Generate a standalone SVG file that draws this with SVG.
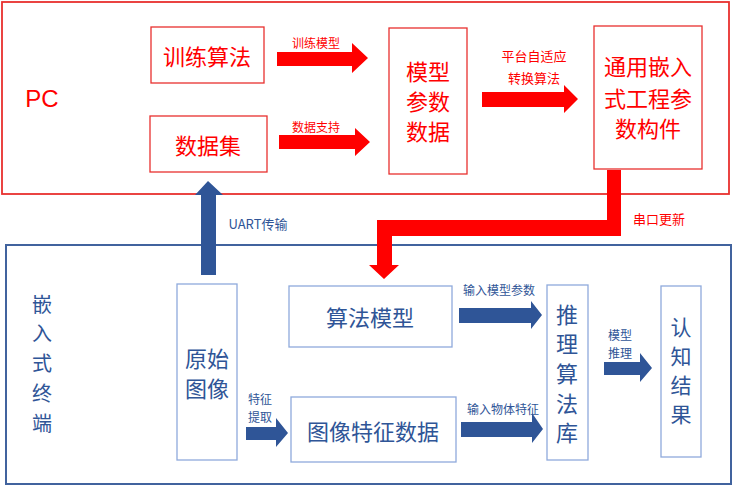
<svg xmlns="http://www.w3.org/2000/svg" width="735" height="486" viewBox="0 0 735 486">
<style>
text{font-family:"Noto Sans CJK SC","Noto Sans",sans-serif;text-anchor:middle;dominant-baseline:central}
.rb{fill:#fff;stroke:#E8302E;stroke-width:1.3}
.bb{fill:#fff;stroke:#8FAADC;stroke-width:1.3}
.rt{fill:#FF0000}
.bt{fill:#2F5597}
.big{font-size:22px}
.sm{font-size:12px}
.md{font-size:13px}
.ra{fill:#FF0000}
.ba{fill:#2F5597}
</style>
<rect width="735" height="486" fill="#fff"/>
<g id="pc">
<rect x="2" y="2" width="727" height="192" fill="none" stroke="#E8302E" stroke-width="1.8"/>
<text x="42" y="98" class="rt" style="font-size:24px;font-family:'Liberation Sans','Noto Sans',sans-serif">PC</text>
</g>
<g id="embedded">
<rect x="6" y="245" width="725" height="239" fill="none" stroke="#41639E" stroke-width="2"/>
<text class="bt" style="font-size:20px" x="42"><tspan x="42" y="303">嵌</tspan><tspan x="42" y="332">入</tspan><tspan x="42" y="362">式</tspan><tspan x="42" y="392">终</tspan><tspan x="42" y="422">端</tspan></text>
</g>
<g id="n-train"><rect class="rb" x="151" y="27" width="113" height="56"/><text class="rt big" x="207" y="55">训练算法</text></g>
<g id="n-data"><rect class="rb" x="150" y="116" width="117" height="56"/><text class="rt big" x="208" y="144">数据集</text></g>
<g id="n-params"><rect class="rb" x="389" y="28" width="78" height="146"/><text class="rt big"><tspan x="428" y="70">模型</tspan><tspan x="428" y="100">参数</tspan><tspan x="428" y="130">数据</tspan></text></g>
<g id="n-generic"><rect class="rb" x="594" y="26" width="108" height="143"/><text class="rt big"><tspan x="648" y="65">通用嵌入</tspan><tspan x="648" y="97">式工程参</tspan><tspan x="648" y="127">数构件</tspan></text></g>
<g id="n-raw"><rect class="bb" x="177" y="284" width="60" height="176"/><text class="bt big"><tspan x="207" y="357">原始</tspan><tspan x="207" y="387">图像</tspan></text></g>
<g id="n-algo"><rect class="bb" x="289" y="286" width="163" height="61"/><text class="bt big" x="370" y="316">算法模型</text></g>
<g id="n-feat"><rect class="bb" x="291" y="397" width="165" height="65"/><text class="bt big" x="373" y="430">图像特征数据</text></g>
<g id="n-lib"><rect class="bb" x="547" y="285" width="41" height="175"/><text class="bt big"><tspan x="567" y="313">推</tspan><tspan x="567" y="342">理</tspan><tspan x="567" y="372">算</tspan><tspan x="567" y="402">法</tspan><tspan x="567" y="431">库</tspan></text></g>
<g id="n-result"><rect class="bb" x="661" y="286" width="40" height="171"/><text class="bt" style="font-size:21px"><tspan x="681" y="326">认</tspan><tspan x="681" y="355">知</tspan><tspan x="681" y="384">结</tspan><tspan x="681" y="413">果</tspan></text></g>
<g id="connectors">
<polygon class="ra" points="277,52 352,52 352,43 368,58 352,73 352,66 277,66"/>
<text class="rt sm" x="316" y="42">训练模型</text>
<polygon class="ra" points="279,135 355,135 355,128 370,142 355,156 355,149 279,149"/>
<text class="rt sm" x="316" y="126">数据支持</text>
<polygon class="ra" points="482,92 564,92 564,85 578,99 564,113 564,107 482,107"/>
<text class="rt md" x="534" y="55">平台自适应</text>
<text class="rt md" x="534" y="77">转换算法</text>
<polygon class="ra" points="607,170 621,170 621,236 392,236 392,265 399,265 384,279 369,265 377,265 377,220 607,220"/>
<text class="rt md" x="659" y="218">串口更新</text>
<polygon class="ba" points="201,275 201,195 195,195 208,181 223,195 216,195 216,275"/>
<text class="bt md" x="258" y="223">UART传输</text>
<polygon class="ba" points="246,427 276,427 276,418 288,433 276,447 276,440 246,440"/>
<text class="bt sm" x="260" y="398">特征</text>
<text class="bt sm" x="260" y="416">提取</text>
<polygon class="ba" points="459,308 531,308 531,301 542,315 531,329 531,323 459,323"/>
<text class="bt sm" x="499" y="289">输入模型参数</text>
<polygon class="ba" points="461,422 532,422 532,413 543,429 532,443 532,437 461,437"/>
<text class="bt sm" x="503" y="408">输入物体特征</text>
<polygon class="ba" points="604,362 640,362 640,353 652,368 640,382 640,375 604,375"/>
<text class="bt sm" x="620" y="334">模型</text>
<text class="bt sm" x="620" y="352">推理</text>
</g>
</svg>
